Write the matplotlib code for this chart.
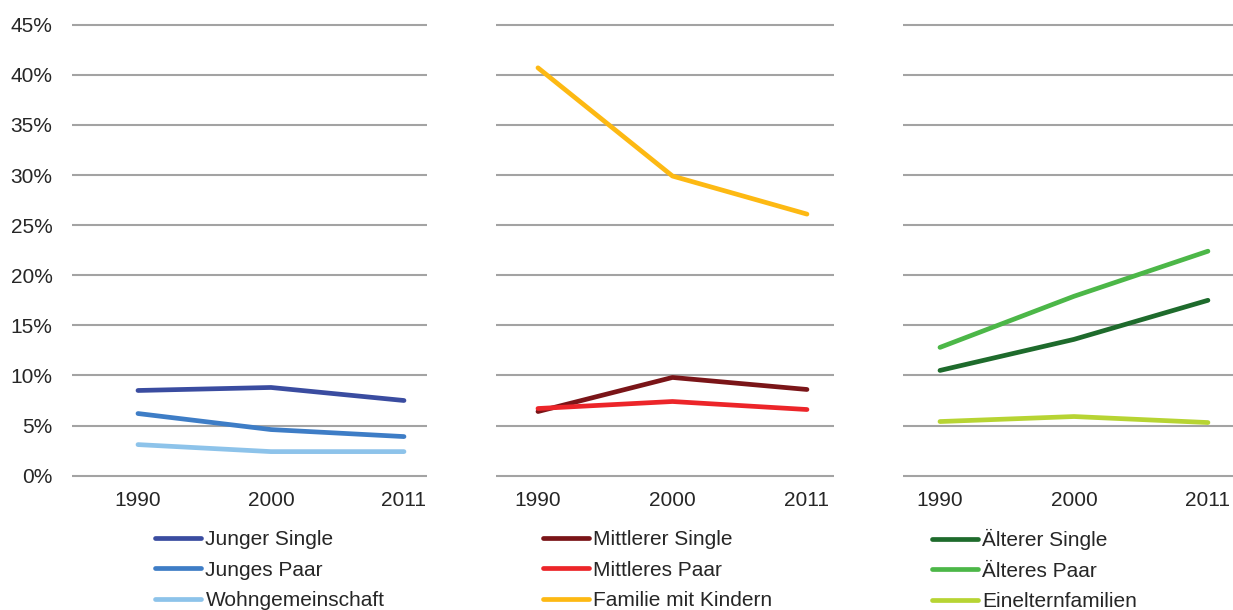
import matplotlib
matplotlib.use("Agg")
import matplotlib.pyplot as plt
from matplotlib.ticker import FuncFormatter

plt.rcParams['font.family'] = ['Liberation Sans', 'DejaVu Sans']

years = ["1990", "2000", "2011"]

# Young households
junger_single = [8.5, 8.8, 7.5]
junges_paar = [6.2, 4.6, 3.9]
wohngemeinschaft = [3.1, 2.4, 2.4]

# Middle-aged households
mittlerer_single = [6.4, 9.8, 8.6]
mittleres_paar = [6.7, 7.4, 6.6]
familie_mit_kindern = [40.7, 29.9, 26.1]

# Older households
aelterer_single = [10.5, 13.6, 17.5]
aelteres_paar = [12.8, 17.9, 22.4]
einelternfamilien = [5.4, 5.9, 5.3]

y_ticks = [0, 5, 10, 15, 20, 25, 30, 35, 40, 45]

panels = [
    {
        "rect": [72 / 1233, 0.2038, 355 / 1233, 0.7721],
        "xlim": (-0.496, 2.173),
        "series": [
            ("Junger Single", junger_single, "#3a4ca0"),
            ("Junges Paar", junges_paar, "#3e7dc6"),
            ("Wohngemeinschaft", wohngemeinschaft, "#8dc3ea"),
        ],
        "legend_x": 155 / 1233,
        "legend_top": 530,
        "yaxis": True,
    },
    {
        "rect": [496 / 1233, 0.2038, 338 / 1233, 0.7721],
        "xlim": (-0.312, 2.201),
        "series": [
            ("Mittlerer Single", mittlerer_single, "#7a1518"),
            ("Mittleres Paar", mittleres_paar, "#ec2529"),
            ("Familie mit Kindern", familie_mit_kindern, "#fdb913"),
        ],
        "legend_x": 543 / 1233,
        "legend_top": 530,
        "yaxis": False,
    },
    {
        "rect": [903 / 1233, 0.2038, 330 / 1233, 0.7721],
        "xlim": (-0.276, 2.187),
        "series": [
            ("Älterer Single", aelterer_single, "#1e6b2c"),
            ("Älteres Paar", aelteres_paar, "#4cb748"),
            ("Einelternfamilien", einelternfamilien, "#b7d433"),
        ],
        "legend_x": 932 / 1233,
        "legend_top": 529,
        "yaxis": False,
    },
]

fig = plt.figure(figsize=(12.33, 6.10), dpi=100)
text_color = "#262626"
fs = 15
x = list(range(len(years)))

for p in panels:
    ax = fig.add_axes(p["rect"])
    ax.set_xlim(*p["xlim"])
    ax.set_ylim(-1, 46)
    for t in y_ticks:
        ax.axhline(t, color="#a3a3a3", linewidth=1.5, zorder=1)
    handles = []
    for label, vals, color in p["series"]:
        (h,) = ax.plot(x, vals, color=color, linewidth=3.4, label=label,
                       solid_capstyle="round", zorder=3)
        handles.append(h)
    for s in ax.spines.values():
        s.set_visible(False)
    ax.set_xticks(x)
    ax.set_xticklabels(years)
    ax.tick_params(axis="x", length=0, pad=4, labelsize=fs, labelcolor=text_color)
    if p["yaxis"]:
        ax.set_yticks(y_ticks)
        ax.yaxis.set_major_formatter(FuncFormatter(lambda v, pos: f"{int(v)}%"))
        ax.tick_params(axis="y", length=0, pad=14, labelsize=fs, labelcolor=text_color)
    else:
        ax.set_yticks([])
    ax.set_facecolor("none")
    fig.legend(handles=handles, loc="upper left",
               bbox_to_anchor=(p["legend_x"], 1 - p["legend_top"] / 610),
               frameon=False, fontsize=fs, handlelength=2.2,
               handletextpad=0.22, labelspacing=0.56, borderpad=0,
               borderaxespad=0, labelcolor=text_color)

fig.savefig("out.png", dpi=100)
